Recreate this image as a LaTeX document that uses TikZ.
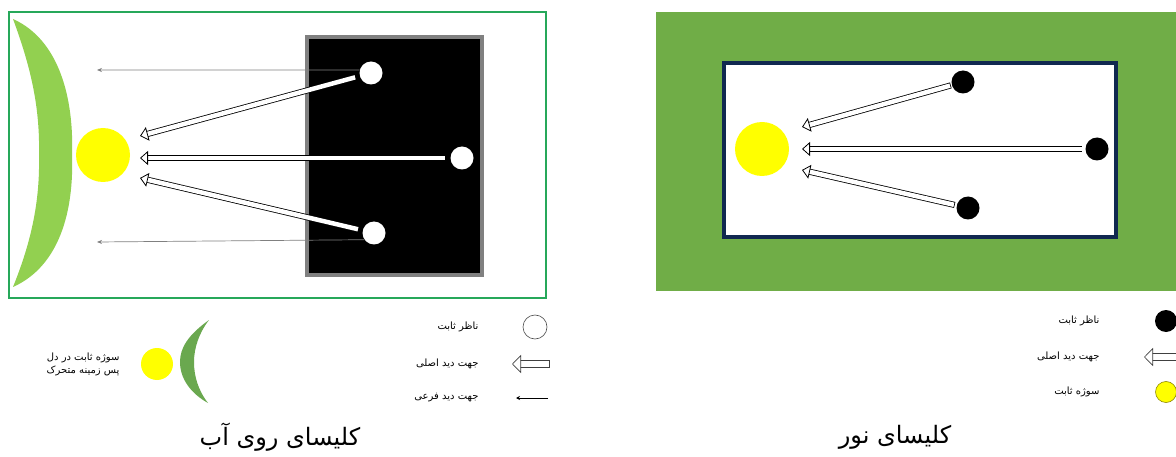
\documentclass[tikz,border=0pt]{standalone}
\usepackage{fontspec}
\usetikzlibrary{arrows.meta}
\newfontfamily\farsi[Script=Arabic]{DejaVu Sans}
\TeXXeTstate=1
\definecolor{framegreen}{RGB}{38,168,90}
\definecolor{lightleaf}{RGB}{146,208,80}
\definecolor{darkleaf}{RGB}{106,168,79}
\definecolor{grassgreen}{RGB}{112,173,71}
\definecolor{navyedge}{RGB}{16,40,80}
\definecolor{sunyellow}{RGB}{255,255,0}
\tikzset{
  observer/.style={circle,fill=white,minimum size=23pt,inner sep=0pt},
  darkobserver/.style={circle,fill=black,minimum size=23pt,inner sep=0pt},
  subject/.style={circle,fill=sunyellow,minimum size=54pt,inner sep=0pt},
  mainview/.style={double=white,double distance=4.5pt,line width=0.8pt,line cap=rect,
    -{Triangle[length=8pt,width=14pt,fill=white,line width=0.8pt]}},
  keyview/.style={draw=gray!50!black,double=white,double distance=6pt,line width=0.7pt,line cap=rect,
    -{Triangle[length=9pt,width=18pt,fill=white,line width=0.7pt]}},
  sideview/.style={gray,line width=0.7pt,-{Stealth[length=5pt,width=4pt]}},
  legendtext/.style={anchor=east,font=\farsi\fontsize{10}{13}\selectfont},
  churchtitle/.style={font=\farsi\fontsize{24}{28}\selectfont},
}

\begin{document}
\begin{tikzpicture}[x=1pt,y=-1pt]
\useasboundingbox (0,0) rectangle (1176,457);

% church on the water
\draw[framegreen,line width=2pt] (9,12) rectangle (546,298);
\fill[lightleaf] (13,19) .. controls (60,40) and (74,100) .. (72,155)
  .. controls (74,210) and (60,266) .. (13,287)
  .. controls (32,240) and (40,200) .. (39,155)
  .. controls (40,110) and (32,70) .. (13,19) -- cycle;
\draw[fill=black,draw=gray,line width=4pt] (307,37) rectangle (482,275);

\node[subject] (sunL) at (103,155) {};
\node[observer] (obsLa) at (371,73) {};
\node[observer] (obsLb) at (462,158) {};
\node[observer] (obsLc) at (374,233) {};
\coordinate (tipLa) at (140,136);
\coordinate (tipLb) at (140,158);
\coordinate (tipLc) at (140,178);
\coordinate (endLa) at (97,70);
\coordinate (endLc) at (97,242);

\draw[sideview] (obsLa.165) -- (endLa);
\draw[sideview] (obsLc.215) -- (endLc);
\draw[mainview,shorten <=7pt] (obsLa) -- (tipLa);
\draw[mainview,shorten <=8pt] (obsLb) -- (tipLb);
\draw[mainview,shorten <=7pt] (obsLc) -- (tipLc);

% its legend
\fill[darkleaf] (209,320) .. controls (188,335) and (180,348) .. (180,362)
  .. controls (180,378) and (190,393) .. (208,403)
  .. controls (198,390) and (194,376) .. (194,362)
  .. controls (194,348) and (199,333) .. (209,320) -- cycle;
\node[subject,minimum size=32pt] (keyLsun) at (157,364) {};
\node[legendtext,align=right] (keyLsuntext) at (123,364)
  {\beginR سوژه ثابت در دل\endR\\\beginR پس زمینه متحرک\endR};
\node[observer,draw=gray!60!black,line width=0.6pt,minimum size=24pt] (keyLobs) at (535,327) {};
\node[legendtext] (keyLobstext) at (482,327) {\beginR ناظر ثابت\endR};
\coordinate (keyLmaintail) at (546,364);
\coordinate (keyLmaintip) at (512,364);
\draw[keyview] (keyLmaintail) -- (keyLmaintip);
\node[legendtext] (keyLmaintext) at (482,364) {\beginR جهت دید اصلی\endR};
\coordinate (keyLsidetail) at (548,398);
\coordinate (keyLsidetip) at (516,398);
\draw[line width=0.7pt,-{Stealth[length=4pt,width=4pt]}] (keyLsidetail) -- (keyLsidetip);
\node[legendtext] (keyLsidetext) at (482,398) {\beginR جهت دید فرعی\endR};

\node[churchtitle] (titleL) at (280,437) {\beginR کلیسای روی آب\endR};

% church of light
\fill[grassgreen] (656,12) rectangle (1176,291);
\draw[fill=white,draw=navyedge,line width=4pt] (724,63) rectangle (1116,237);

\node[subject] (sunR) at (762,149) {};
\node[darkobserver] (obsRa) at (963,82) {};
\node[darkobserver] (obsRb) at (1097,149) {};
\node[darkobserver] (obsRc) at (968,208) {};
\coordinate (tipRa) at (802,127);
\coordinate (tipRb) at (802,149);
\coordinate (tipRc) at (802,170);

\draw[mainview,shorten <=4pt] (obsRa) -- (tipRa);
\draw[mainview,shorten <=6pt] (obsRb) -- (tipRb);
\draw[mainview,shorten <=5pt] (obsRc) -- (tipRc);

% its legend
\node[darkobserver,minimum size=22pt] (keyRobs) at (1166,321) {};
\node[legendtext] (keyRobstext) at (1103,321) {\beginR ناظر ثابت\endR};
\coordinate (keyRmaintail) at (1180,357);
\coordinate (keyRmaintip) at (1144,357);
\draw[keyview] (keyRmaintail) -- (keyRmaintip);
\node[legendtext] (keyRmaintext) at (1103,357) {\beginR جهت دید اصلی\endR};
\node[subject,draw=olive,line width=0.6pt,minimum size=21pt] (keyRsun) at (1166,392) {};
\node[legendtext] (keyRsuntext) at (1103,392) {\beginR سوژه ثابت\endR};

\node[churchtitle] (titleR) at (895,437) {\beginR کلیسای نور\endR};
\end{tikzpicture}
\end{document}
